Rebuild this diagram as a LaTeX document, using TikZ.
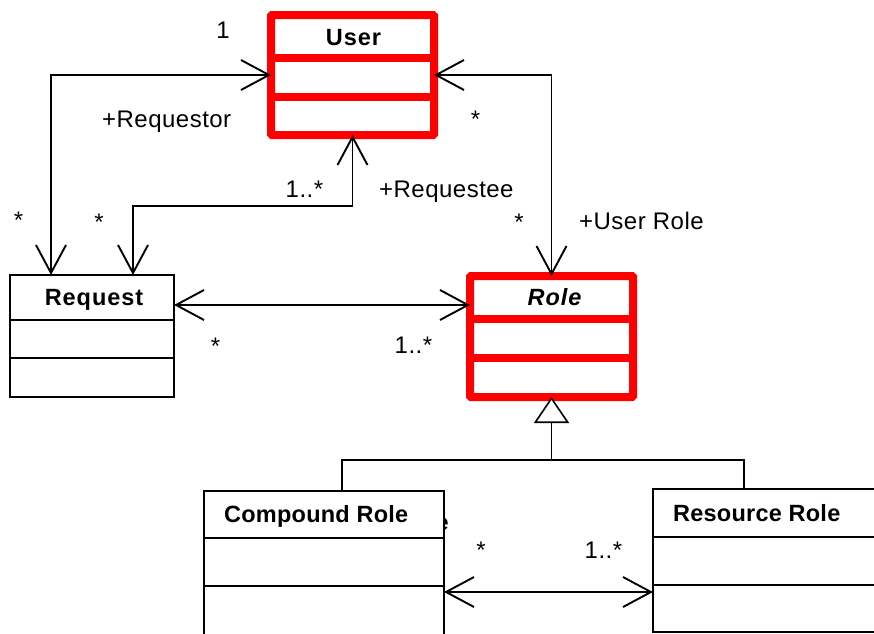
\documentclass[tikz,border=0pt]{standalone}
\usepackage{fontspec}
\setmainfont{Liberation Sans}
\newfontfamily\wideface[LetterSpace=4]{Liberation Sans}
\newfontfamily\labelface[LetterSpace=2]{Liberation Sans}
\newfontfamily\snugface[LetterSpace=1]{Liberation Sans}
\usetikzlibrary{arrows.meta,calc}

\begin{document}
\begin{tikzpicture}[x=1pt,y=-1pt,
  box/.style={draw=black, line width=1.7pt, fill=white, inner sep=0pt, outer sep=0pt, anchor=north west},
  hotbox/.style={box, draw=red, line width=8pt, rounded corners=1pt},
  sep/.style={line width=1.7pt},
  hotsep/.style={draw=red, line width=8pt},
  ttl/.style={font=\fontsize{23.5}{28}\selectfont\wideface\bfseries, inner sep=0pt},
  ttlb/.style={font=\fontsize{23.5}{28}\selectfont\snugface\bfseries, inner sep=0pt},
  lbl/.style={font=\fontsize{24}{28}\selectfont\labelface, inner sep=0pt},
  barb/.tip={Straight Barb[length=28pt,width=30pt,line width=1.9pt]},
  assoc/.style={line width=1.3pt, barb-barb},
  gen/.style={line width=1.3pt, -{Triangle[length=26pt,width=35pt,fill=white,line width=1.6pt]}},
]
\useasboundingbox (0,0) rectangle (874,633);
\fill[white] (0,0) rectangle (874,633);
\clip (0,0) rectangle (874,633);

% classes
\node[hotbox, minimum width=163pt, minimum height=120pt] (user) at (271,15) {};
\draw[hotsep] ([yshift=-43pt]user.north west) -- ([yshift=-43pt]user.north east);
\draw[hotsep] ([yshift=-82pt]user.north west) -- ([yshift=-82pt]user.north east);
\node[ttl, anchor=base] (userT) at ([xshift=1pt,yshift=-30pt]user.north) {User};

\node[box, minimum width=164pt, minimum height=122pt] (request) at (10,275) {};
\draw[sep] ([yshift=-45pt]request.north west) -- ([yshift=-45pt]request.north east);
\draw[sep] ([yshift=-83pt]request.north west) -- ([yshift=-83pt]request.north east);
\node[ttl, anchor=base] (requestT) at ([xshift=2pt,yshift=-30pt]request.north) {Request};

\node[hotbox, minimum width=163pt, minimum height=121pt] (role) at (470,276) {};
\draw[hotsep] ([yshift=-43pt]role.north west) -- ([yshift=-43pt]role.north east);
\draw[hotsep] ([yshift=-82pt]role.north west) -- ([yshift=-82pt]role.north east);
\node[ttl, anchor=base] (roleT) at ([xshift=3pt,yshift=-29pt]role.north) {\itshape Role};

% glyph left behind the compound class
\node[ttlb, anchor=base east] (stray) at (449,530) {e};

\node[box, minimum width=240pt, minimum height=160pt] (cmp) at (204,491) {};
\draw[sep] ([yshift=-47pt]cmp.north west) -- ([yshift=-47pt]cmp.north east);
\draw[sep] ([yshift=-95pt]cmp.north west) -- ([yshift=-95pt]cmp.north east);
\node[ttlb, anchor=base west] (cmpT) at ([xshift=20pt,yshift=-31.5pt]cmp.north west) {Compound Role};

\node[box, minimum width=260pt, minimum height=143pt] (res) at (653,489) {};
\draw[sep] ([yshift=-48pt]res.north west) -- ([yshift=-48pt]res.north east);
\draw[sep] ([yshift=-96pt]res.north west) -- ([yshift=-96pt]res.north east);
\node[ttlb, anchor=base west] (resT) at ([xshift=20pt,yshift=-32pt]res.north west) {Resource Role};

% generalization
\coordinate (fork) at ([yshift=-63pt]role.south);
\draw[gen] (fork) -- (role.south);
\draw[line width=1.3pt] ([xshift=138pt]cmp.north west) |- (fork) -| ([xshift=91pt]res.north west);

% associations
\draw[assoc] ([xshift=41pt]request.north west) |- (user.west);
\draw[assoc] ([xshift=123pt]request.north west) |- ([yshift=-71pt]user.south) -- (user.south);
\draw[assoc] (user.east) -| (role.north);
\coordinate (rq) at ([yshift=-30pt]request.north east);
\draw[assoc] (rq) -- (rq -| role.west);
\coordinate (cr) at ([yshift=-101pt]cmp.north east);
\draw[assoc] (cr) -- (cr -| res.west);

% role names and multiplicities
\node[lbl, anchor=base] (m1) at (223,38.5) {1};
\node[lbl, anchor=base west] (rqor) at (102,127) {+Requestor};
\node[lbl, anchor=base west] (m2) at (285.5,197) {1..*};
\node[lbl, anchor=base west] (rqee) at (379,197) {+Requestee};
\node[lbl, anchor=base west] (urole) at (579,229) {+User Role};
\node[lbl, anchor=base] (s1) at (18.5,228) {*};
\node[lbl, anchor=base] (s2) at (99,230) {*};
\node[lbl, anchor=base] (s3) at (475.5,127) {*};
\node[lbl, anchor=base] (s4) at (519,230) {*};
\node[lbl, anchor=base] (s5) at (215.5,354) {*};
\node[lbl, anchor=base west] (m3) at (394.5,353) {1..*};
\node[lbl, anchor=base] (s6) at (481,558) {*};
\node[lbl, anchor=base west] (m4) at (584.5,558) {1..*};
\end{tikzpicture}
\end{document}
